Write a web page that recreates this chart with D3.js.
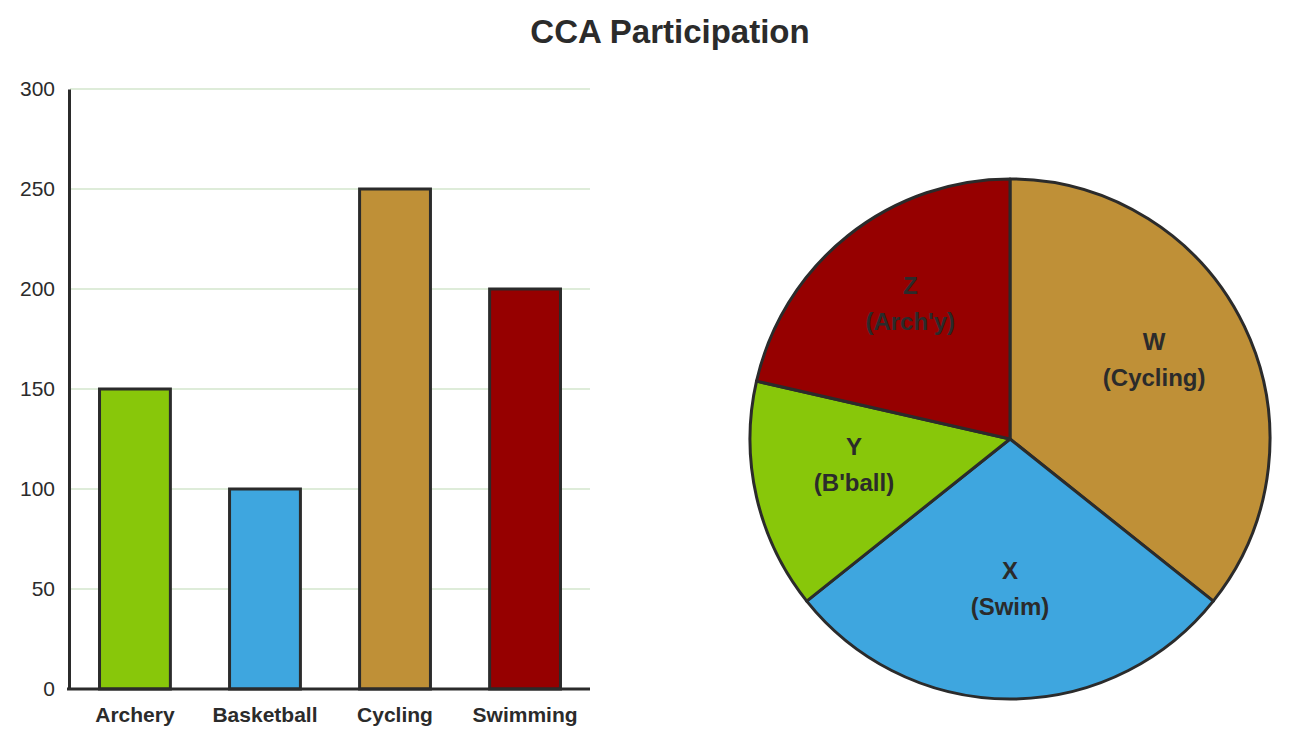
<!DOCTYPE html>
<html><head><meta charset="utf-8">
<script src="https://cdn.jsdelivr.net/npm/d3@7"></script>
<style>body{margin:0;background:#fff;font-family:Arial,"Liberation Sans",sans-serif}</style>
</head><body>
<svg id="c" width="1291" height="747"></svg>
<script>
const categories=["Archery","Basketball","Cycling","Swimming"];
const values=[150,100,250,200];
const colors=["#88c70a","#3ea6df","#bf9037","#960000"];
const yTicks=[0,50,100,150,200,250,300];
const pieOrder=["Cycling","Swimming","Basketball","Archery"];
const pieColors=["#bf9037","#3ea6df","#88c70a","#960000"];
const pieLetters=["W","X","Y","Z"];
const pieNames=["(Cycling)","(Swim)","(B'ball)","(Arch'y)"];

const svg=d3.select("#c");
const stroke="#2b2b2b";
svg.append("text").attr("x",670).attr("y",43).attr("text-anchor","middle")
 .attr("font-size",33).attr("font-weight","bold").attr("fill","#2b2b2b").text("CCA Participation");

const x=d3.scaleBand().domain(categories).range([70,590]).paddingInner(0.455).paddingOuter(0.227);
const y=d3.scaleLinear().domain([0,300]).range([689,89]);
const g=svg.append("g");
g.selectAll(".grid").data(yTicks.slice(1)).join("line")
 .attr("x1",70).attr("x2",590).attr("y1",d=>y(d)).attr("y2",d=>y(d))
 .attr("stroke","#d3e6cc").attr("stroke-width",1.5);
g.selectAll("rect").data(values).join("rect")
 .attr("x",(d,i)=>x(categories[i])).attr("width",x.bandwidth())
 .attr("y",d=>y(d)).attr("height",d=>y(0)-y(d))
 .attr("fill",(d,i)=>colors[i]).attr("stroke",stroke).attr("stroke-width",3);
const ya=g.append("g").attr("transform","translate(69,0)")
 .call(d3.axisLeft(y).tickValues(yTicks).tickSize(0).tickPadding(14));
ya.select(".domain").attr("stroke",stroke).attr("stroke-width",3);
ya.selectAll("text").attr("font-size",21).attr("fill","#2b2b2b").attr("font-family","Arial,Liberation Sans");
const xa=g.append("g").attr("transform","translate(0,689)")
 .call(d3.axisBottom(x).tickSize(0).tickPadding(18));
xa.select(".domain").attr("stroke",stroke).attr("stroke-width",3).attr("d","M67,0H590");
xa.selectAll("text").attr("font-size",21).attr("font-weight","bold").attr("fill","#2b2b2b").attr("font-family","Arial,Liberation Sans");

const pieData=pieOrder.map((n,i)=>({name:n,value:values[categories.indexOf(n)],color:pieColors[i]}));
const pie=d3.pie().sort(null).value(d=>d.value)(pieData);
const R=260;
const arc=d3.arc().innerRadius(0).outerRadius(R);
const pg=svg.append("g").attr("transform","translate(1010,439)");
pg.selectAll("path").data(pie).join("path").attr("d",arc)
 .attr("fill",d=>d.data.color).attr("stroke",stroke).attr("stroke-width",3).attr("stroke-linejoin","round");
const lab=d3.arc().innerRadius(160).outerRadius(160);
pie.forEach((d,i)=>{
 const [cx,cy]=lab.centroid(d);
 const t=pg.append("text").attr("text-anchor","middle").attr("font-size",24).attr("font-weight","bold").attr("fill","#2b2b2b");
 t.append("tspan").attr("x",cx).attr("y",cy-20).text(pieLetters[i]);
 t.append("tspan").attr("x",cx).attr("y",cy+16).text(pieNames[i]);
});
</script>
</body></html>
